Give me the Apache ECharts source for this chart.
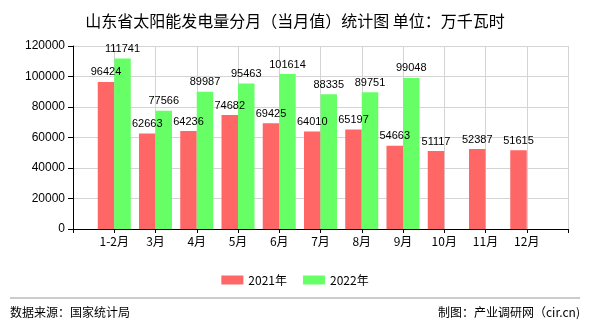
<!DOCTYPE html>
<html>
<head>
<meta charset="utf-8">
<script src="https://cdn.jsdelivr.net/npm/echarts@6/dist/echarts.min.js"></script>
<style>
html,body{margin:0;padding:0;background:#fff;}
#c{width:590px;height:330px;}
</style>
</head>
<body>
<div id="c"></div>
<script>
const categories = ['1-2月','3月','4月','5月','6月','7月','8月','9月','10月','11月','12月'];
const values2021 = [96424, 62663, 64236, 74682, 69425, 64010, 65197, 54663, 51117, 52387, 51615];
const values2022 = [111741, 77566, 89987, 95463, 101614, 88335, 89751, 99048, null, null, null];
const seriesNames = ['2021年', '2022年'];
const yTicks = [0, 20000, 40000, 60000, 80000, 100000, 120000];

const axisData = [''].concat(categories, ['']);
const pad = arr => [null].concat(arr, [null]);

const chart = echarts.init(document.getElementById('c'), null, {renderer: 'canvas'});
const numFont = 'Liberation Sans, Arial, sans-serif';
const cjkFont = '"Noto Sans CJK SC", sans-serif';
const labelOpt = {
  show: true, position: 'top', distance: 4,
  color: '#000', fontSize: 11, fontFamily: numFont,
  formatter: p => (p.value == null ? '' : String(p.value))
};
chart.setOption({
  animation: false,
  backgroundColor: '#fff',
  title: {
    text: '山东省太阳能发电量分月（当月值）统计图 单位：万千瓦时',
    left: 'center', top: 8,
    textStyle: {fontSize: 16, fontWeight: 'normal', color: '#000', fontFamily: cjkFont}
  },
  legend: {
    data: seriesNames,
    left: 'center', top: 269,
    itemWidth: 22, itemHeight: 9, itemGap: 16,
    icon: 'rect',
    textStyle: {fontSize: 12, color: '#000', fontFamily: cjkFont}
  },
  grid: {left: 73, right: 22, top: 46, bottom: 101},
  xAxis: {
    type: 'category',
    data: axisData,
    boundaryGap: false,
    axisLine: {lineStyle: {color: '#000', width: 1}},
    axisTick: {show: true, length: 4, lineStyle: {color: '#000'}},
    axisLabel: {color: '#000', fontSize: 12, fontFamily: cjkFont, margin: 6, interval: 0},
    splitLine: {show: true, lineStyle: {color: '#d4d4d4', width: 1}}
  },
  yAxis: {
    type: 'value',
    min: yTicks[0], max: yTicks[yTicks.length - 1], interval: yTicks[1] - yTicks[0],
    axisLine: {show: true, lineStyle: {color: '#000', width: 1}},
    axisTick: {show: true, length: 5, lineStyle: {color: '#000'}},
    axisLabel: {color: '#000', fontSize: 12, fontFamily: numFont, margin: 8, formatter: v => String(v)},
    splitLine: {show: true, lineStyle: {color: '#d4d4d4', width: 1}}
  },
  series: [
    {
      name: seriesNames[0], type: 'bar', data: pad(values2021),
      barWidth: 16.5, barGap: '0%',
      itemStyle: {color: '#FF6666'},
      label: labelOpt
    },
    {
      name: seriesNames[1], type: 'bar', data: pad(values2022),
      barWidth: 16.5, barGap: '0%',
      itemStyle: {color: '#66FF66'},
      label: labelOpt
    }
  ],
  graphic: [
    {type: 'line', shape: {x1: 10, y1: 298, x2: 580, y2: 298}, style: {stroke: '#999', lineWidth: 1}},
    {type: 'text', left: 10, top: 306, style: {text: '数据来源：国家统计局', fill: '#000', font: '12px "Noto Sans CJK SC", sans-serif'}},
    {type: 'text', right: 10, top: 306, style: {text: '制图：产业调研网（cir.cn)', fill: '#000', font: '12px "Noto Sans CJK SC", sans-serif'}}
  ]
});
</script>
</body>
</html>
